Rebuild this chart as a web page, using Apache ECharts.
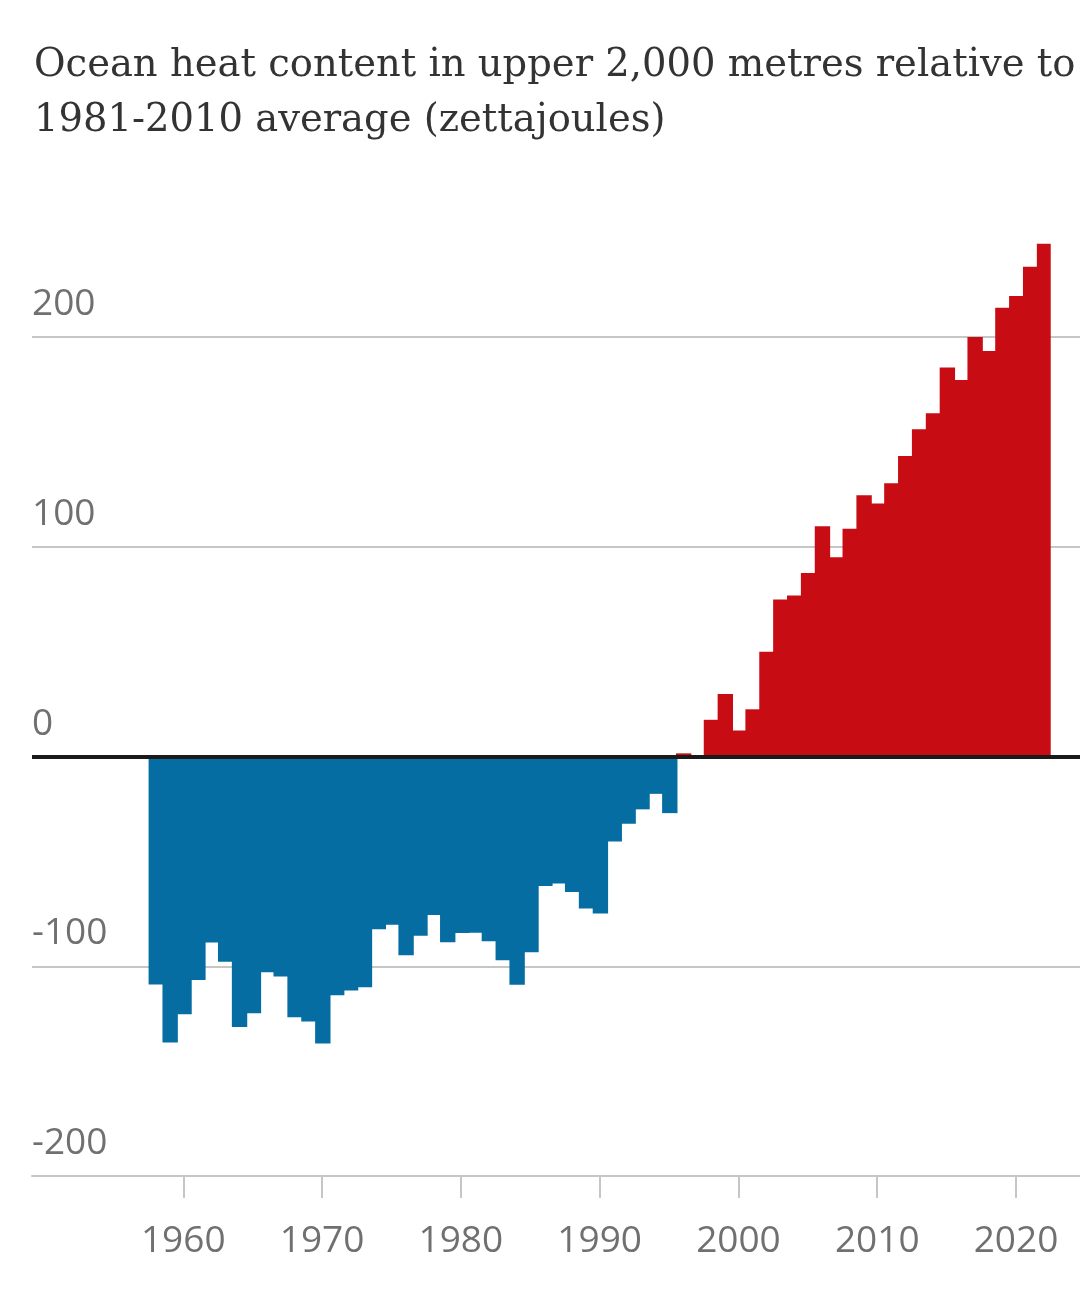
<!DOCTYPE html>
<html>
<head>
<meta charset="utf-8">
<script src="https://cdn.jsdelivr.net/npm/echarts@6/dist/echarts.min.js"></script>
<style>
  html, body { margin: 0; padding: 0; background: #ffffff; }
  #chart { width: 1080px; height: 1291px; }
</style>
</head>
<body>
<div id="chart"></div>
<script>
var titleText = 'Ocean heat content in upper 2,000 metres relative to\n1981-2010 average (zettajoules)';

var years = [
  1958, 1959, 1960, 1961, 1962, 1963, 1964, 1965, 1966, 1967,
  1968, 1969, 1970, 1971, 1972, 1973, 1974, 1975, 1976, 1977,
  1978, 1979, 1980, 1981, 1982, 1983, 1984, 1985, 1986, 1987,
  1988, 1989, 1990, 1991, 1992, 1993, 1994, 1995, 1996, 1997,
  1998, 1999, 2000, 2001, 2002, 2003, 2004, 2005, 2006, 2007,
  2008, 2009, 2010, 2011, 2012, 2013, 2014, 2015, 2016, 2017,
  2018, 2019, 2020, 2021, 2022
];

var heatContent = [
  -108.7, -136.3, -122.9, -106.5, -88.7, -97.8, -129.0, -122.4, -102.9, -104.9,
  -124.3, -126.3, -136.8, -113.8, -111.6, -110.0, -82.4, -80.2, -94.8, -85.4,
  -75.6, -88.6, -84.1, -84.0, -88.1, -97.1, -108.8, -93.3, -61.7, -60.5,
  -64.6, -72.5, -74.9, -40.5, -32.1, -25.2, -17.8, -27.0, 1.5, 0,
  17.5, 29.8, 12.4, 22.5, 50.0, 74.8, 76.7, 87.5, 109.8, 95.0,
  108.6, 124.6, 120.6, 130.3, 143.3, 156.0, 163.7, 185.4, 179.5, 200.0,
  193.3, 214.0, 219.5, 233.5, 244.4
];

var xTickYears = [1960, 1970, 1980, 1990, 2000, 2010, 2020];
var yTicks = [-200, -100, 0, 100, 200];

var RED = '#c80c14';
var BLUE = '#056da1';
var GRID_GREY = '#c6c6c6';
var LABEL_GREY = '#707070';

var seriesData = years.map(function (y, i) { return [y, heatContent[i]]; });
var lastYear = years[years.length - 1];

var chart = echarts.init(document.getElementById('chart'), null, { renderer: 'canvas' });

chart.setOption({
  backgroundColor: '#ffffff',
  animation: false,
  title: {
    text: titleText,
    left: 29,
    top: 33,
    textStyle: {
      fontFamily: 'DejaVu Serif',
      fontWeight: 'normal',
      fontSize: 38.5,
      lineHeight: 55,
      color: '#333333'
    }
  },
  grid: {
    left: 32,
    right: 0,
    top: 337,
    bottom: 115,
    containLabel: false
  },
  xAxis: {
    type: 'value',
    min: 1949.1,
    max: 2024.61,
    axisLine: { show: true, onZero: false, lineStyle: { color: GRID_GREY, width: 2 } },
    axisTick: {
      show: true,
      customValues: xTickYears,
      length: 22,
      lineStyle: { color: GRID_GREY, width: 2 }
    },
    axisLabel: {
      show: true,
      customValues: xTickYears,
      margin: 47,
      fontFamily: 'Open Sans',
      fontSize: 37,
      color: LABEL_GREY,
      formatter: function (v) { return String(Math.round(v)); }
    },
    splitLine: { show: false }
  },
  yAxis: {
    type: 'value',
    min: yTicks[0],
    max: yTicks[yTicks.length - 1],
    interval: 100,
    axisLine: { show: false },
    axisTick: { show: false },
    axisLabel: {
      inside: true,
      margin: 0,
      align: 'left',
      verticalAlign: 'bottom',
      padding: [0, 0, 14, 0],
      fontFamily: 'Open Sans',
      fontSize: 37,
      lineHeight: 37,
      color: LABEL_GREY
    },
    splitLine: { show: true, lineStyle: { color: GRID_GREY, width: 2 } }
  },
  series: [
    {
      type: 'custom',
      z: 2,
      clip: false,
      data: seriesData,
      encode: { x: 0, y: 1 },
      renderItem: function (params, api) {
        var yr = api.value(0);
        var v = api.value(1);
        var p1 = api.coord([yr - 0.5, v]);
        var p2 = api.coord([yr + 0.5, 0]);
        var c = v >= 0 ? RED : BLUE;
        var extra = yr === lastYear ? 0 : 1.5;
        return {
          type: 'rect',
          shape: {
            x: p1[0],
            y: Math.min(p1[1], p2[1]),
            width: p2[0] - p1[0] + extra,
            height: Math.abs(p2[1] - p1[1])
          },
          style: { fill: c }
        };
      }
    },
    {
      type: 'line',
      z: 5,
      data: seriesData,
      showSymbol: false,
      silent: true,
      lineStyle: { opacity: 0 },
      markLine: {
        silent: true,
        symbol: ['none', 'none'],
        label: { show: false },
        lineStyle: { color: '#1a1a1a', width: 4, type: 'solid' },
        data: [{ yAxis: 0 }]
      }
    }
  ]
});
</script>
</body>
</html>
